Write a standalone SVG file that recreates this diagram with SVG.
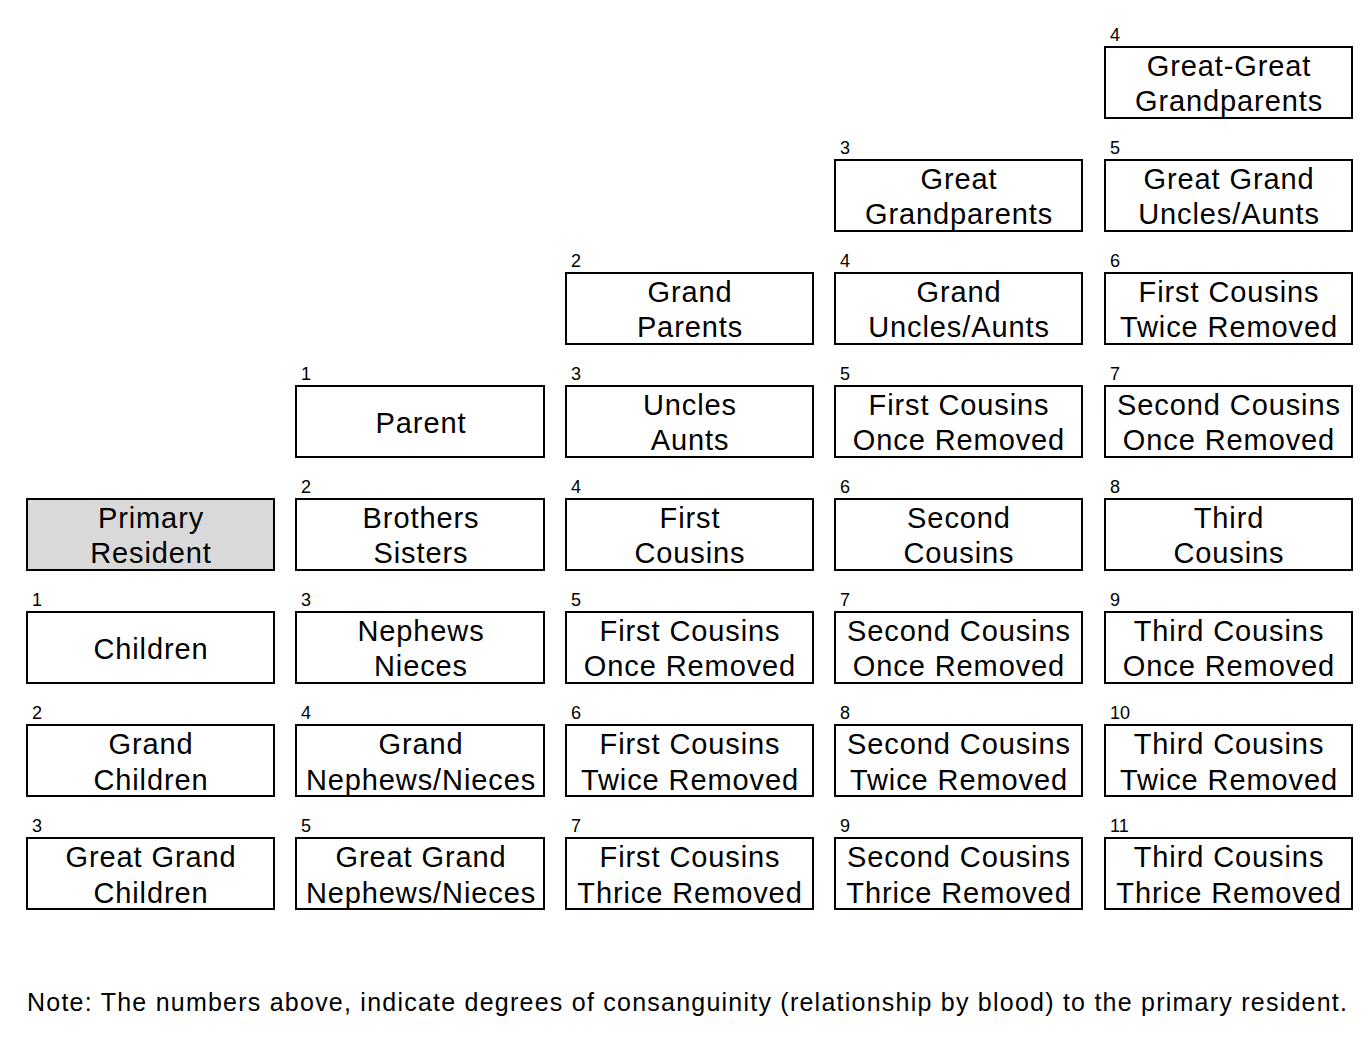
<svg xmlns="http://www.w3.org/2000/svg" width="1371" height="1046" viewBox="0 0 1371 1046">
<style>
.b{fill:#fff;stroke:#000;stroke-width:2}
.g{fill:#d9d9d9;stroke:#000;stroke-width:2}
.t{font-family:"Liberation Sans",Arial,sans-serif;font-size:29px;letter-spacing:0.9px;text-anchor:middle;fill:#000}
.n{font-family:"Liberation Sans",Arial,sans-serif;font-size:18px;fill:#000}
.note{font-family:"Liberation Sans",Arial,sans-serif;font-size:25px;fill:#000}
</style>
<rect width="1371" height="1046" fill="#fff"/>
<g id="nodes">
<!-- column 5 -->
<g id="n-ggp"><text class="n" x="1110" y="41">4</text><rect class="b" x="1105" y="47" width="247" height="71"/><text class="t" x="1229" y="76">Great-Great</text><text class="t" x="1229" y="111">Grandparents</text></g>
<g id="n-ggua"><text class="n" x="1110" y="154">5</text><rect class="b" x="1105" y="160" width="247" height="71"/><text class="t" x="1229" y="189">Great Grand</text><text class="t" x="1229" y="224">Uncles/Aunts</text></g>
<g id="n-fc2r-up"><text class="n" x="1110" y="267">6</text><rect class="b" x="1105" y="273" width="247" height="71"/><text class="t" x="1229" y="302">First Cousins</text><text class="t" x="1229" y="337">Twice Removed</text></g>
<g id="n-sc1r-up"><text class="n" x="1110" y="380">7</text><rect class="b" x="1105" y="386" width="247" height="71"/><text class="t" x="1229" y="415">Second Cousins</text><text class="t" x="1229" y="450">Once Removed</text></g>
<g id="n-tc"><text class="n" x="1110" y="493">8</text><rect class="b" x="1105" y="499" width="247" height="71"/><text class="t" x="1229" y="528">Third</text><text class="t" x="1229" y="563">Cousins</text></g>
<g id="n-tc1r"><text class="n" x="1110" y="606">9</text><rect class="b" x="1105" y="612" width="247" height="71"/><text class="t" x="1229" y="641">Third Cousins</text><text class="t" x="1229" y="676">Once Removed</text></g>
<g id="n-tc2r"><text class="n" x="1110" y="719">10</text><rect class="b" x="1105" y="725" width="247" height="71"/><text class="t" x="1229" y="754">Third Cousins</text><text class="t" x="1229" y="790">Twice Removed</text></g>
<g id="n-tc3r"><text class="n" x="1110" y="832">11</text><rect class="b" x="1105" y="838" width="247" height="71"/><text class="t" x="1229" y="867">Third Cousins</text><text class="t" x="1229" y="903">Thrice Removed</text></g>
<!-- column 4 -->
<g id="n-gp3"><text class="n" x="840" y="154">3</text><rect class="b" x="835" y="160" width="247" height="71"/><text class="t" x="959" y="189">Great</text><text class="t" x="959" y="224">Grandparents</text></g>
<g id="n-gua"><text class="n" x="840" y="267">4</text><rect class="b" x="835" y="273" width="247" height="71"/><text class="t" x="959" y="302">Grand</text><text class="t" x="959" y="337">Uncles/Aunts</text></g>
<g id="n-fc1r-up"><text class="n" x="840" y="380">5</text><rect class="b" x="835" y="386" width="247" height="71"/><text class="t" x="959" y="415">First Cousins</text><text class="t" x="959" y="450">Once Removed</text></g>
<g id="n-sc"><text class="n" x="840" y="493">6</text><rect class="b" x="835" y="499" width="247" height="71"/><text class="t" x="959" y="528">Second</text><text class="t" x="959" y="563">Cousins</text></g>
<g id="n-sc1r"><text class="n" x="840" y="606">7</text><rect class="b" x="835" y="612" width="247" height="71"/><text class="t" x="959" y="641">Second Cousins</text><text class="t" x="959" y="676">Once Removed</text></g>
<g id="n-sc2r"><text class="n" x="840" y="719">8</text><rect class="b" x="835" y="725" width="247" height="71"/><text class="t" x="959" y="754">Second Cousins</text><text class="t" x="959" y="790">Twice Removed</text></g>
<g id="n-sc3r"><text class="n" x="840" y="832">9</text><rect class="b" x="835" y="838" width="247" height="71"/><text class="t" x="959" y="867">Second Cousins</text><text class="t" x="959" y="903">Thrice Removed</text></g>
<!-- column 3 -->
<g id="n-gp"><text class="n" x="571" y="267">2</text><rect class="b" x="566" y="273" width="247" height="71"/><text class="t" x="690" y="302">Grand</text><text class="t" x="690" y="337">Parents</text></g>
<g id="n-ua"><text class="n" x="571" y="380">3</text><rect class="b" x="566" y="386" width="247" height="71"/><text class="t" x="690" y="415">Uncles</text><text class="t" x="690" y="450">Aunts</text></g>
<g id="n-fc"><text class="n" x="571" y="493">4</text><rect class="b" x="566" y="499" width="247" height="71"/><text class="t" x="690" y="528">First</text><text class="t" x="690" y="563">Cousins</text></g>
<g id="n-fc1r"><text class="n" x="571" y="606">5</text><rect class="b" x="566" y="612" width="247" height="71"/><text class="t" x="690" y="641">First Cousins</text><text class="t" x="690" y="676">Once Removed</text></g>
<g id="n-fc2r"><text class="n" x="571" y="719">6</text><rect class="b" x="566" y="725" width="247" height="71"/><text class="t" x="690" y="754">First Cousins</text><text class="t" x="690" y="790">Twice Removed</text></g>
<g id="n-fc3r"><text class="n" x="571" y="832">7</text><rect class="b" x="566" y="838" width="247" height="71"/><text class="t" x="690" y="867">First Cousins</text><text class="t" x="690" y="903">Thrice Removed</text></g>
<!-- column 2 -->
<g id="n-parent"><text class="n" x="301" y="380">1</text><rect class="b" x="296" y="386" width="248" height="71"/><text class="t" x="421" y="433">Parent</text></g>
<g id="n-sib"><text class="n" x="301" y="493">2</text><rect class="b" x="296" y="499" width="248" height="71"/><text class="t" x="421" y="528">Brothers</text><text class="t" x="421" y="563">Sisters</text></g>
<g id="n-nn"><text class="n" x="301" y="606">3</text><rect class="b" x="296" y="612" width="248" height="71"/><text class="t" x="421" y="641">Nephews</text><text class="t" x="421" y="676">Nieces</text></g>
<g id="n-gnn"><text class="n" x="301" y="719">4</text><rect class="b" x="296" y="725" width="248" height="71"/><text class="t" x="421" y="754">Grand</text><text class="t" x="421" y="790">Nephews/Nieces</text></g>
<g id="n-ggnn"><text class="n" x="301" y="832">5</text><rect class="b" x="296" y="838" width="248" height="71"/><text class="t" x="421" y="867">Great Grand</text><text class="t" x="421" y="903">Nephews/Nieces</text></g>
<!-- column 1 -->
<g id="n-primary"><rect class="g" x="27" y="499" width="247" height="71"/><text class="t" x="151" y="528">Primary</text><text class="t" x="151" y="563">Resident</text></g>
<g id="n-children"><text class="n" x="32" y="606">1</text><rect class="b" x="27" y="612" width="247" height="71"/><text class="t" x="151" y="659">Children</text></g>
<g id="n-gc"><text class="n" x="32" y="719">2</text><rect class="b" x="27" y="725" width="247" height="71"/><text class="t" x="151" y="754">Grand</text><text class="t" x="151" y="790">Children</text></g>
<g id="n-ggc"><text class="n" x="32" y="832">3</text><rect class="b" x="27" y="838" width="247" height="71"/><text class="t" x="151" y="867">Great Grand</text><text class="t" x="151" y="903">Children</text></g>
</g>
<g id="connectors"></g>
<text class="note" x="27" y="1011" textLength="1320" lengthAdjust="spacing">Note: The numbers above, indicate degrees of consanguinity (relationship by blood) to the primary resident.</text>
</svg>
